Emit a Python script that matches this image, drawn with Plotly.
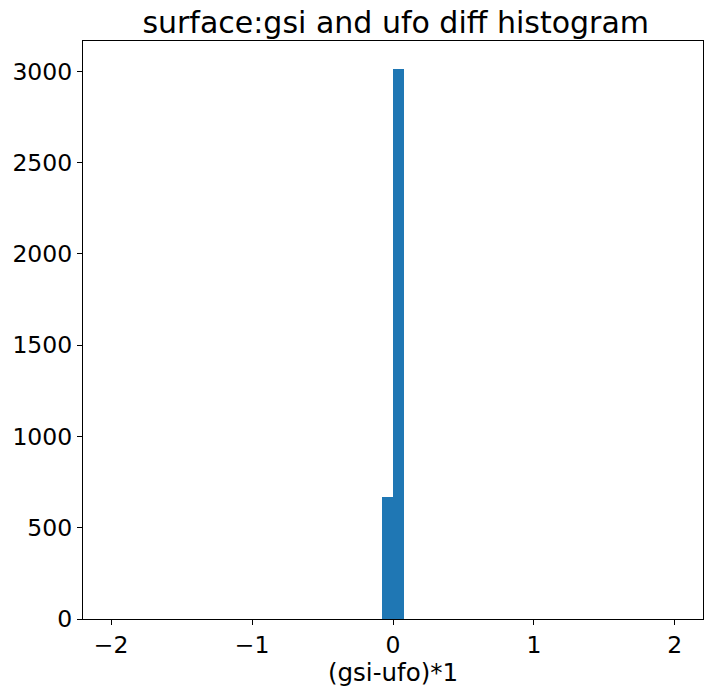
import plotly.graph_objects as go

# histogram of (gsi - ufo) differences, 50 bins over [-2, 2]
bin_width = 0.08
bin_left = [-2 + bin_width * i for i in range(50)]
counts = [0] * 50
counts[24] = 670   # [-0.08, 0)
counts[25] = 3016  # [0, 0.08)

x_ticks = [-2, -1, 0, 1, 2]
y_ticks = [0, 500, 1000, 1500, 2000, 2500, 3000]

centers = [b + bin_width / 2 for b in bin_left]

fig = go.Figure(go.Bar(
    x=centers, y=counts, width=bin_width,
    marker=dict(color="#1f77b4", line=dict(width=0)),
))

axis_style = dict(
    showline=True, linecolor="black", linewidth=1.2, mirror=True,
    ticks="outside", ticklen=5, tickwidth=1.2, tickcolor="black",
    showgrid=False, zeroline=False, automargin=False,
    tickfont=dict(size=23.5, color="black"),
)

fig.update_layout(
    width=713, height=692,
    margin=dict(l=83, r=10, t=41, b=73),
    paper_bgcolor="white", plot_bgcolor="white",
    font=dict(family="DejaVu Sans", color="black"),
    title=dict(text="surface:gsi and ufo diff histogram", x=0.555, xanchor="center",
               y=0.968, yanchor="middle", font=dict(size=30)),
    bargap=0,
    showlegend=False,
)
fig.update_xaxes(range=[-2.2, 2.2], tickvals=x_ticks, **axis_style)
fig.update_yaxes(range=[0, 3016 * 1.05], tickvals=y_ticks, **axis_style)

# x-axis label placed as an annotation so it sits tight under the tick labels
fig.add_annotation(text="(gsi-ufo)*1", x=0.5, xref="paper", xanchor="center",
                   y=-0.092, yref="paper", yanchor="middle", showarrow=False,
                   borderpad=0, font=dict(size=24.5, color="black"))

# drop the default page margin so the figure sits at the window's corner
fig.write_html("out.html", config={"displayModeBar": False},
               post_script="document.body.style.margin='0';")
